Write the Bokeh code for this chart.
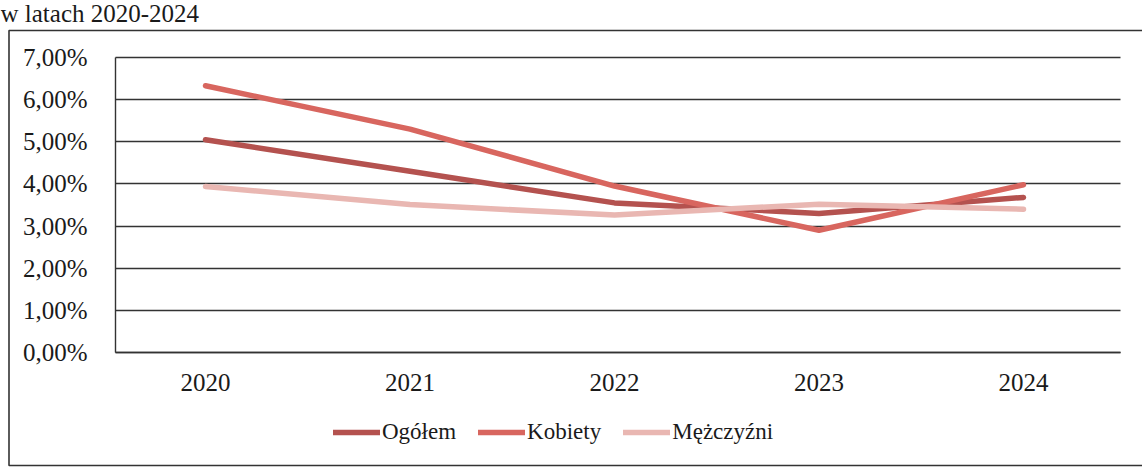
from bokeh.plotting import figure
from bokeh.models import (Range1d, FixedTicker, Legend, LegendItem, Label,
                          BoxAnnotation, CustomJSTickFormatter)
from bokeh.embed import file_html
from bokeh.resources import INLINE

years = [2020, 2021, 2022, 2023, 2024]
ogolem = [5.05, 4.30, 3.55, 3.30, 3.68]
kobiety = [6.33, 5.30, 3.95, 2.90, 3.98]
mezczyzni = [3.94, 3.51, 3.26, 3.52, 3.40]
y_ticks = [0, 1, 2, 3, 4, 5, 6, 7]
title_text = "w latach 2020-2024"

FONT = "Liberation Serif"
W, H = 1142, 468

# page-pixel layout of the chart (the frame covers the whole canvas)
X_FIRST, X_STEP = 205.0, 204.5          # pixel of first year, pixels per year
Y_ZERO, Y_UNIT = 352.0, 295.0 / 7.0      # pixel of 0 %, pixels per 1 %


def dx(px):
    return years[0] + (px - X_FIRST) / X_STEP


def dy(py):
    return (Y_ZERO - py) / Y_UNIT


p = figure(width=W, height=H, output_backend="svg", toolbar_location=None,
           x_range=Range1d(dx(0), dx(W)), y_range=Range1d(dy(H), dy(0)),
           min_border=0, min_border_left=0, min_border_right=0,
           min_border_top=0, min_border_bottom=0, outline_line_color=None,
           background_fill_color="white", border_fill_color="white")

x_left, x_right = dx(115), dx(1120)

p.xgrid.grid_line_color = None
p.ygrid.grid_line_color = "#333333"
p.ygrid.grid_line_width = 1.4
p.ygrid.bounds = (0, 7)
p.ygrid.cross_bounds = (x_left, x_right)

p.yaxis.ticker = FixedTicker(ticks=y_ticks)
p.yaxis.formatter = CustomJSTickFormatter(code="return tick.toFixed(2).replace('.', ',') + '%';")
p.yaxis.fixed_location = x_left
p.yaxis.bounds = (0, 7)
p.xaxis.ticker = FixedTicker(ticks=years)
p.xaxis.formatter = CustomJSTickFormatter(code="return tick.toFixed(0);")
p.xaxis.fixed_location = 0
p.xaxis.bounds = (x_left, x_right)

for ax in (p.xaxis[0], p.yaxis[0]):
    ax.axis_line_color = "#333333"
    ax.axis_line_width = 1.4
    ax.major_tick_line_color = None
    ax.minor_tick_line_color = None
    ax.major_label_text_font = FONT
    ax.major_label_text_font_size = "25px"
    ax.major_label_text_color = "#1a1a1a"
p.yaxis.major_label_standoff = 22
p.xaxis.major_label_standoff = 15

r1 = p.line(years, ogolem, line_color="#b4524f", line_width=5.5, line_cap="round", line_join="round")
r2 = p.line(years, kobiety, line_color="#d8665f", line_width=5.5, line_cap="round", line_join="round")
r3 = p.line(years, mezczyzni, line_color="#e9b7b2", line_width=5.5, line_cap="round", line_join="round")

legend = Legend(items=[LegendItem(label="Ogółem", renderers=[r1]),
                       LegendItem(label="Kobiety", renderers=[r2]),
                       LegendItem(label="Mężczyźni", renderers=[r3])],
                location=(333, 23), orientation="horizontal",
                border_line_color=None, background_fill_alpha=0,
                label_text_font=FONT, label_text_font_size="23px",
                label_text_color="#1a1a1a", glyph_width=47, glyph_height=24,
                label_standoff=2, spacing=22, padding=0, margin=0)
p.add_layout(legend, "center")

box = BoxAnnotation(left=dx(8.5), right=dx(W + 40), top=dy(30), bottom=dy(465),
                    fill_alpha=0, line_color="#333333", line_alpha=1.0,
                    line_width=1.6)
p.add_layout(box)

lbl = Label(x=dx(0), y=dy(13), text=title_text, text_font=FONT,
            text_font_size="25px", text_color="#1a1a1a",
            text_baseline="alphabetic", text_align="left")
p.add_layout(lbl)

open("out.html", "w").write(file_html(p, INLINE))
